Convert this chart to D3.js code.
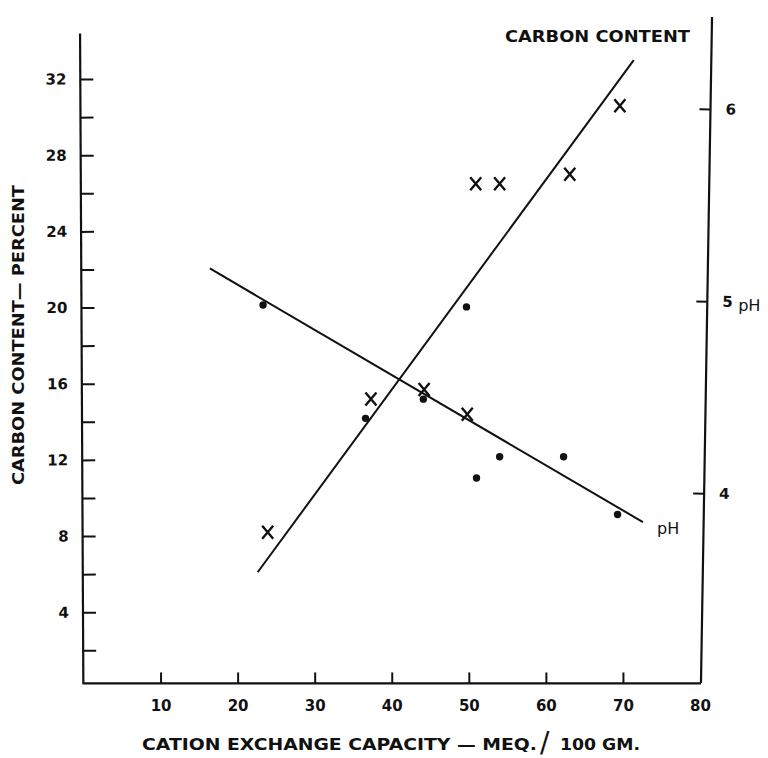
<!DOCTYPE html>
<html>
<head>
<meta charset="utf-8">
<script src="https://cdn.jsdelivr.net/npm/d3@7"></script>
<style>
  html, body { margin: 0; padding: 0; background: #fff; }
  svg { display: block; }
  text { font-family: "DejaVu Sans", "Liberation Sans", sans-serif; font-weight: bold; fill: #111; }
</style>
</head>
<body>
<svg id="chart" width="768" height="758"></svg>
<script>
// ---------- data ----------
const cecTicks = [10, 20, 30, 40, 50, 60, 70, 80];
const carbonTicks = [2, 4, 6, 8, 10, 12, 14, 16, 18, 20, 22, 24, 26, 28, 30, 32];
const carbonLabelTicks = [4, 8, 12, 16, 20, 24, 28, 32];
const phTicks = [4, 5, 6];

// carbon content (X markers)
const carbonCEC = [23.9, 37.3, 44.2, 49.8, 50.9, 54.0, 63.1, 69.6];
const carbonPct = [8.2, 15.2, 15.7, 14.4, 26.5, 26.5, 27.0, 30.6];

// pH (dots)
const phCEC = [23.3, 36.6, 44.1, 49.7, 51.0, 54.0, 62.3, 69.3];
const phValue = [4.98, 4.39, 4.49, 4.97, 4.08, 4.19, 4.19, 3.89];

// fitted lines (end points)
const carbonFitCEC = [22.6, 71.4];
const carbonFitPct = [6.1, 33.0];
const phFitCEC = [16.4, 72.6];
const phFitValue = [5.17, 3.85];

// ---------- scales ----------
const svg = d3.select("#chart");
svg.append("rect").attr("width", 768).attr("height", 758).attr("fill", "#fff");

const x = d3.scaleLinear().domain([0, 80]).range([83.5, 700]);
const yC = d3.scaleLinear().domain([0, 34.4]).range([688.4, 33.4]);
const yP = d3.scaleLinear().domain([4, 6]).range([493.3, 109]);
const axisY = yC(0.26);

const ink = "#111";

// ---------- left axis ----------
const leftG = svg.append("g").attr("transform", "rotate(-0.29,81.7,358) translate(81.7,0)");
leftG.append("line").attr("x1", 0).attr("x2", 0)
  .attr("y1", yC(34.4)).attr("y2", axisY).attr("stroke", ink).attr("stroke-width", 2.2);
const leftAxis = d3.axisLeft(yC).tickValues(carbonTicks).tickSizeInner(-13).tickSizeOuter(0)
  .tickPadding(14).tickFormat(d => carbonLabelTicks.includes(d) ? d : "");
leftG.append("g").call(leftAxis).call(g => {
  g.select(".domain").remove();
  g.selectAll(".tick line").attr("stroke", ink).attr("stroke-width", 2);
  g.selectAll(".tick text").style("font-size", "15px").attr("fill", ink);
});

// ---------- right axis (pH) ----------
const rightG = svg.append("g").attr("transform", "rotate(0.95,706.5,350) translate(706.5,0)");
rightG.append("line").attr("x1", 0).attr("x2", 0)
  .attr("y1", yP(6.479)).attr("y2", yP(3.013)).attr("stroke", ink).attr("stroke-width", 2.2);
const rightAxis = d3.axisRight(yP).tickValues(phTicks).tickSizeInner(-11).tickSizeOuter(0)
  .tickPadding(15).tickFormat(d3.format("d"));
rightG.append("g").call(rightAxis).call(g => {
  g.select(".domain").remove();
  g.selectAll(".tick line").attr("stroke", ink).attr("stroke-width", 2);
  g.selectAll(".tick text").style("font-size", "15px").attr("fill", ink);
});
rightG.append("text").attr("x", 31).attr("y", yP(5) + 9)
  .style("font-size", "16px").style("font-weight", "normal").text("pH");

// ---------- bottom axis ----------
const bottomAxis = d3.axisBottom(x).tickValues(cecTicks).tickSizeInner(-11).tickSizeOuter(0)
  .tickPadding(17).tickFormat(d3.format("d"));
svg.append("g").attr("transform", `translate(0,${axisY})`).call(bottomAxis).call(g => {
  g.select(".domain").remove();
  g.selectAll(".tick line").attr("stroke", ink).attr("stroke-width", 2)
    .filter(d => d === 80).remove();
  g.selectAll(".tick text").style("font-size", "15px").attr("fill", ink);
});
svg.append("line").attr("x1", x(0) - 1).attr("x2", x(80) + 1)
  .attr("y1", axisY).attr("y2", axisY).attr("stroke", ink).attr("stroke-width", 2.2);

// ---------- fitted lines ----------
const lineC = d3.line().x(d => x(d[0])).y(d => yC(d[1]));
svg.append("path").datum(d3.zip(carbonFitCEC, carbonFitPct)).attr("d", lineC)
  .attr("fill", "none").attr("stroke", ink).attr("stroke-width", 2);
const lineP = d3.line().x(d => x(d[0])).y(d => yP(d[1]));
svg.append("path").datum(d3.zip(phFitCEC, phFitValue)).attr("d", lineP)
  .attr("fill", "none").attr("stroke", ink).attr("stroke-width", 2);

// ---------- markers ----------
const xMark = "M-5.5,-6.5L5.5,6.5M5.5,-6.5L-5.5,6.5";
svg.append("g").selectAll("path").data(d3.zip(carbonCEC, carbonPct)).join("path")
  .attr("transform", d => `translate(${x(d[0])},${yC(d[1])})`)
  .attr("d", xMark).attr("fill", "none").attr("stroke", ink).attr("stroke-width", 2.4);

svg.append("g").selectAll("circle").data(d3.zip(phCEC, phValue)).join("circle")
  .attr("cx", d => x(d[0])).attr("cy", d => yP(d[1])).attr("r", 3.7).attr("fill", ink);

// ---------- labels ----------
svg.append("text").attr("x", 690).attr("y", 42).attr("text-anchor", "end")
  .attr("textLength", 185).attr("lengthAdjust", "spacingAndGlyphs")
  .style("font-size", "15px").text("CARBON  CONTENT");

svg.append("text").attr("x", x(phFitCEC[1]) + 14).attr("y", yP(phFitValue[1]) + 12)
  .style("font-size", "16px").style("font-weight", "normal").text("pH");

// y title
svg.append("text").attr("transform", "translate(24,335) rotate(-90)")
  .attr("text-anchor", "middle").attr("textLength", 300).attr("lengthAdjust", "spacingAndGlyphs")
  .style("font-size", "15px").text("CARBON  CONTENT— PERCENT");

// x title
svg.append("text").attr("x", 142).attr("y", 750)
  .attr("textLength", 395).attr("lengthAdjust", "spacingAndGlyphs")
  .style("font-size", "15px").text("CATION  EXCHANGE  CAPACITY — MEQ.");
svg.append("text").attr("x", 540).attr("y", 752)
  .style("font-size", "28px").style("font-weight", "normal").text("/");
svg.append("text").attr("x", 560).attr("y", 750)
  .attr("textLength", 80).attr("lengthAdjust", "spacingAndGlyphs")
  .style("font-size", "15px").text("100 GM.");
</script>
</body>
</html>
